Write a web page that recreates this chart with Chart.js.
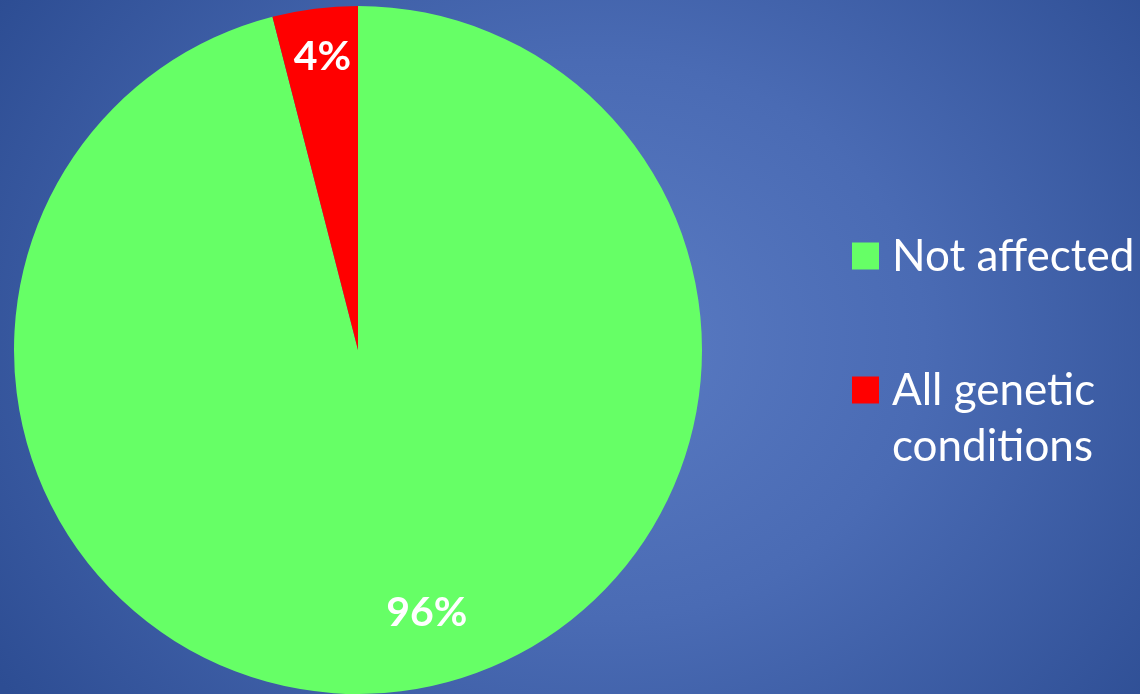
<!DOCTYPE html>
<html>
<head>
<meta charset="utf-8">
<script src="https://cdn.jsdelivr.net/npm/chart.js@4/dist/chart.umd.min.js"></script>
<style>
  html, body { margin: 0; padding: 0; width: 1140px; height: 694px; overflow: hidden; }
  body { background: radial-gradient(ellipse 720px 620px at 600px 340px, #5a7bc3 0%, #4a6bb4 45%, #2d4d93 100%); }
  #wrap { position: absolute; left: 0; top: 0; width: 1140px; height: 694px; }
</style>
</head>
<body>
<div id="wrap"><canvas id="c" width="1140" height="694"></canvas></div>
<script>
const categories = ["Not affected", "All genetic conditions"];
const legendLines = [["Not affected"], ["All genetic", "conditions"]];
const values = [96, 4];
const valueLabels = ["96%", "4%"];
const colors = ["#66ff66", "#ff0000"];

const labelPlugin = {
  id: 'sliceLabels',
  afterDatasetsDraw(chart) {
    const ctx = chart.ctx;
    const meta = chart.getDatasetMeta(0);
    const tweaks = [{ frac: 0.79, dAng: -0.13 }, { frac: 0.86, dAng: 0.005 }];
    ctx.save();
    ctx.fillStyle = '#ffffff';
    ctx.font = 'bold 41px Lato';
    ctx.textAlign = 'center';
    ctx.textBaseline = 'middle';
    meta.data.forEach((arc, i) => {
      const p = arc.getProps(['x', 'y', 'startAngle', 'endAngle', 'outerRadius'], true);
      const mid = (p.startAngle + p.endAngle) / 2 + tweaks[i].dAng;
      const r = p.outerRadius * tweaks[i].frac;
      ctx.fillText(valueLabels[i], p.x + Math.cos(mid) * r, p.y + Math.sin(mid) * r);
    });
    ctx.restore();
  }
};

const legendPlugin = {
  id: 'customLegend',
  afterDraw(chart) {
    const ctx = chart.ctx;
    const x0 = 852, box = 27, tx = 892;
    const rows = [{ y: 256 }, { y: 390 }];
    ctx.save();
    ctx.font = '44px Lato';
    ctx.textBaseline = 'alphabetic';
    ctx.textAlign = 'left';
    categories.forEach((c, i) => {
      const y = rows[i].y;
      ctx.fillStyle = colors[i];
      ctx.fillRect(x0, y - box / 2, box, box);
      ctx.fillStyle = '#ffffff';
      legendLines[i].forEach((line, j) => {
        ctx.fillText(line, tx, y + 15 + j * 56);
      });
    });
    ctx.restore();
  }
};

new Chart(document.getElementById('c'), {
  type: 'pie',
  data: {
    labels: categories,
    datasets: [{ data: values, backgroundColor: colors, borderWidth: 0 }]
  },
  options: {
    responsive: false,
    animation: false,
    rotation: 0,
    layout: { padding: { left: 14, right: 438, top: 6, bottom: 0 } },
    plugins: { legend: { display: false }, tooltip: { enabled: false } }
  },
  plugins: [labelPlugin, legendPlugin]
});
</script>
</body>
</html>
